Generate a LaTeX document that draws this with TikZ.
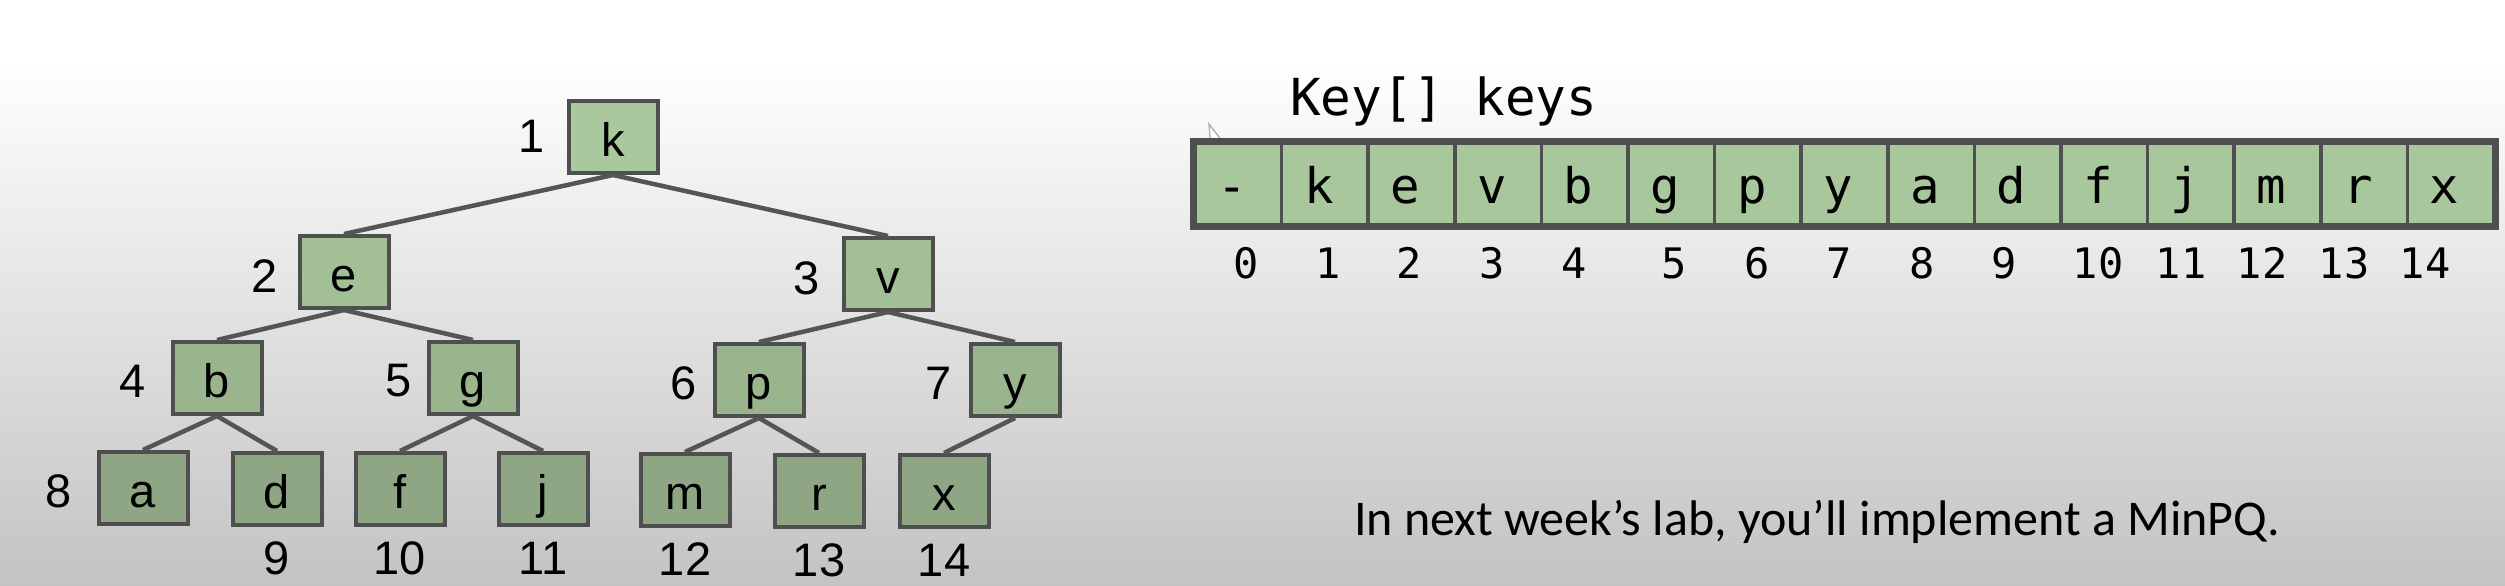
\documentclass[tikz,border=0pt]{standalone}
\usepackage{fontspec}
\setmainfont{Liberation Sans}
\newfontfamily\monofont{DejaVu Sans Mono}
\newfontfamily\calfont{Carlito}
\definecolor{edgegray}{HTML}{555555}
\definecolor{boxline}{HTML}{4F4F4F}
\definecolor{gA}{HTML}{A9C89D}
\definecolor{gB}{HTML}{A2BF96}
\definecolor{gC}{HTML}{9AB58E}
\definecolor{gD}{HTML}{8EA683}
\definecolor{gArr}{HTML}{A8C79C}
\definecolor{bgbottom}{HTML}{C3C3C3}
\tikzset{
  treebox/.style={draw=boxline, line width=4pt, minimum width=89pt, minimum height=72pt, inner sep=0pt, text height=42pt, text depth=3pt, font=\fontsize{47}{56}\selectfont},
  treeedge/.style={draw=edgegray, line width=4.5pt},
  idxlabel/.style={inner sep=0pt, font=\fontsize{47}{56}\selectfont},
  cellbox/.style={draw=boxline, line width=3.5pt, fill=gArr, minimum width=86.6pt, minimum height=82pt, inner sep=0pt},
  celltext/.style={inner sep=0pt, text height=40pt, text depth=2pt, font=\monofont\fontsize{49}{58}\selectfont},
  arridx/.style={inner sep=0pt, font=\monofont\fontsize{42}{50}\selectfont}
}
\begin{document}
\begin{tikzpicture}[x=1pt,y=-1pt]
\useasboundingbox (0,0) rectangle (2505,586);
\fill[white] (0,0) rectangle (2505,60);
\shade[top color=white, bottom color=bgbottom] (0,60) rectangle (2505,586);

% tree nodes
\node[treebox, fill=gA] (k) at (613,137) {k};
\node[treebox, fill=gB] (e) at (344,272) {e};
\node[treebox, fill=gB] (v) at (888,274) {v};
\node[treebox, fill=gC] (b) at (217,378) {b};
\node[treebox, fill=gC] (g) at (473,378) {g};
\node[treebox, fill=gC] (p) at (759,380) {p};
\node[treebox, fill=gC] (y) at (1015,380) {y};
\node[treebox, fill=gD] (a) at (143,488) {a};
\node[treebox, fill=gD] (d) at (277,489) {d};
\node[treebox, fill=gD] (f) at (400,489) {f};
\node[treebox, fill=gD] (j) at (543,489) {j};
\node[treebox, fill=gD] (m) at (685,490) {m};
\node[treebox, fill=gD] (r) at (819,491) {r};
\node[treebox, fill=gD] (x) at (944,491) {x};

% tree edges
\foreach \pa/\ch in {k/e,k/v,e/b,e/g,v/p,v/y,b/a,b/d,g/f,g/j,p/m,p/r,y/x}{
  \draw[treeedge] (\pa.south) -- (\ch.north);
}

% index labels
\node[idxlabel] (l1) at (532,136) {1};
\node[idxlabel] (l2) at (265,276) {2};
\node[idxlabel] (l3) at (807,278) {3};
\node[idxlabel] (l4) at (133,381) {4};
\node[idxlabel] (l5) at (399,381) {5};
\node[idxlabel] (l6) at (684,383) {6};
\node[idxlabel] (l7) at (939,383) {7};
\node[idxlabel] (l8) at (59,491) {8};
\node[idxlabel] (l9) at (277,558) {9};
\node[idxlabel] (l10) at (400,558) {10};
\node[idxlabel] (l11) at (543,558) {11};
\node[idxlabel] (l12) at (685,559) {12};
\node[idxlabel] (l13) at (819,560) {13};
\node[idxlabel] (l14) at (944,560) {14};

% array heading
\node[inner sep=0pt, anchor=base west, font=\monofont\fontsize{51}{61}\selectfont] (head) at (1290,115) {Key[] keys};

% mouse cursor
\draw[gray!70, line width=1.2pt, fill=white] (1209,124) -- (1211,147) -- (1215,142) -- (1222,141) -- cycle;

% array cells
\foreach \i/\ch in {0/-,1/k,2/e,3/v,4/b,5/g,6/p,7/y,8/a,9/d,10/f,11/j,12/m,13/r,14/x}{
  \node[cellbox] (c\i) at ({1195+86.6*(\i+0.5)},184) {};
  \node[celltext] (t\i) at ([xshift=-6pt]c\i.center) {\ch};
}
\draw[boxline, line width=6pt] (c0.north west) rectangle (c14.south east);

% array indices
\foreach \i/\xx in {0/1246,1/1328,2/1409,3/1492,4/1574,5/1674,6/1757,7/1839,8/1922,9/2004,10/2098,11/2181,12/2262,13/2344,14/2425}{
  \node[arridx] (n\i) at (\xx,263) {\i};
}

% bottom text
\node[inner sep=0pt, anchor=base west, font=\calfont\fontsize{50}{60}\selectfont] (note) at (1354,535) {In next week’s lab, you’ll implement a MinPQ.};
\end{tikzpicture}
\end{document}
